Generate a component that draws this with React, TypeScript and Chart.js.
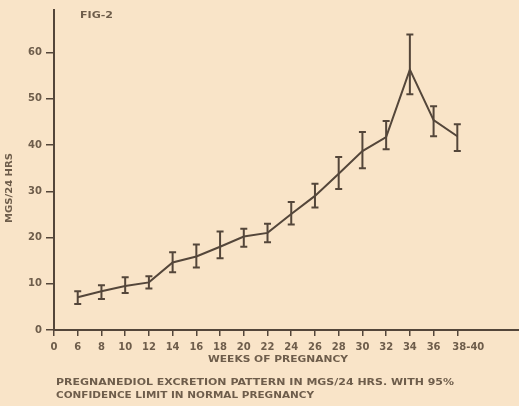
import React, { useEffect, useRef } from "react";
import { Chart, registerables } from "chart.js";
Chart.register(...registerables);

const weekLabels = ["0", "6", "8", "10", "12", "14", "16", "18", "20", "22", "24", "26", "28", "30", "32", "34", "36", "38-40"];
const meanValues = [7.1, 8.4, 9.5, 10.3, 14.6, 15.9, 18.0, 20.2, 21.0, 25.1, 29.0, 33.8, 38.7, 41.7, 56.3, 45.4, 41.9];
const upperValues = [8.4, 9.7, 11.4, 11.6, 16.8, 18.5, 21.3, 21.9, 23.0, 27.7, 31.6, 37.4, 42.8, 45.2, 63.9, 48.4, 44.5];
const lowerValues = [5.6, 6.7, 8.0, 9.0, 12.5, 13.5, 15.5, 18.0, 19.0, 22.8, 26.5, 30.5, 35.0, 39.1, 51.0, 41.9, 38.7];
const yTicks = [0, 10, 20, 30, 40, 50, 60];
const captionLines = ["PREGNANEDIOL EXCRETION PATTERN IN MGS/24 HRS. WITH 95%", "CONFIDENCE LIMIT IN NORMAL PREGNANCY"];

const INK = "#54463a";
const TEXT = "#6e5d4b";
const BG = "#f9e4c8";
const FONT = "'DejaVu Sans', sans-serif";

function stretchText(ctx: CanvasRenderingContext2D, text: string, x: number, y: number, width: number, align: "left" | "center") {
  const w = ctx.measureText(text).width;
  const s = width / w;
  ctx.save();
  ctx.textAlign = "left";
  const left = align === "center" ? x - width / 2 : x;
  ctx.translate(left, y);
  ctx.scale(s, 1);
  ctx.fillText(text, 0, 0);
  ctx.restore();
}

export default function App() {
  const ref = useRef<HTMLCanvasElement | null>(null);
  useEffect(() => {
    document.body.style.margin = "0";
    document.body.style.background = BG;
    const canvas = ref.current!;
    const errorBars = {
      id: "errorBars",
      afterDatasetsDraw(chart: any) {
        const ctx = chart.ctx;
        const xs = chart.scales.x;
        const ys = chart.scales.y;
        ctx.save();
        ctx.strokeStyle = INK;
        ctx.lineWidth = 2;
        for (let i = 0; i < meanValues.length; i++) {
          const x = xs.getPixelForValue(i + 1);
          const yh = ys.getPixelForValue(upperValues[i]);
          const yl = ys.getPixelForValue(lowerValues[i]);
          ctx.beginPath();
          ctx.moveTo(x, yh);
          ctx.lineTo(x, yl);
          ctx.moveTo(x - 3.5, yh);
          ctx.lineTo(x + 3.5, yh);
          ctx.moveTo(x - 3.5, yl);
          ctx.lineTo(x + 3.5, yl);
          ctx.stroke();
        }
        ctx.restore();
      },
    };
    const texts = {
      id: "texts",
      beforeDraw(chart: any) {
        const ctx = chart.ctx;
        ctx.save();
        ctx.fillStyle = BG;
        ctx.fillRect(0, 0, chart.width, chart.height);
        ctx.restore();
      },
      afterDraw(chart: any) {
        const ctx = chart.ctx;
        const xs = chart.scales.x;
        ctx.save();
        ctx.fillStyle = TEXT;
        ctx.textBaseline = "middle";
        // x tick labels
        ctx.font = `bold 10px ${FONT}`;
        weekLabels.forEach((lab, i) => {
          const px = xs.getPixelForValue(i);
          if (lab.length > 2) {
            ctx.textAlign = "left";
            ctx.fillText(lab, px - 5, 347);
          } else {
            ctx.textAlign = "center";
            ctx.fillText(lab, px, 347);
          }
        });
        ctx.font = `bold 8px ${FONT}`;
        stretchText(ctx, "FIG-2", 80, 16, 33, "left");
        ctx.font = `bold 9px ${FONT}`;
        stretchText(ctx, "WEEKS OF PREGNANCY", 278, 360, 140, "center");
        stretchText(ctx, captionLines[0], 56, 383, 398, "left");
        stretchText(ctx, captionLines[1], 56, 396, 258, "left");
        ctx.translate(10, 188);
        ctx.rotate(-Math.PI / 2);
        ctx.font = `bold 8px ${FONT}`;
        stretchText(ctx, "MGS/24 HRS", 0, 0, 70, "center");
        ctx.restore();
      },
    };
    const chart = new Chart(canvas, {
      type: "line",
      data: {
        datasets: [
          {
            data: meanValues.map((v, i) => ({ x: i + 1, y: v })),
            borderColor: INK,
            borderWidth: 2,
            pointRadius: 0,
            tension: 0,
            fill: false,
          },
        ],
      },
      plugins: [errorBars, texts],
      options: {
        animation: false,
        responsive: false,
        maintainAspectRatio: false,
        layout: { padding: { top: 8, right: 0, left: 0, bottom: 0 } },
        plugins: { legend: { display: false }, tooltip: { enabled: false }, title: { display: false } },
        scales: {
          x: {
            type: "linear",
            min: 0,
            max: 19.6,
            afterBuildTicks(scale: any) {
              scale.ticks = weekLabels.map((_, i) => ({ value: i }));
            },
            afterFit(scale: any) {
              scale.height = 76;
            },
            ticks: {
              autoSkip: false,
              maxRotation: 0,
              padding: 5,
              color: "rgba(0,0,0,0)",
              font: { family: FONT, size: 9, weight: "bold" },
              callback: (v: any) => weekLabels[Math.round(Number(v))] ?? "",
            },
            grid: { drawOnChartArea: false, tickLength: 6, color: INK, lineWidth: 1.5 },
            border: { color: INK, width: 2 },
          },
          y: {
            min: 0,
            max: 69.2,
            afterBuildTicks(scale: any) {
              scale.ticks = yTicks.map((v) => ({ value: v }));
            },
            afterFit(scale: any) {
              scale.width = 54;
            },
            ticks: {
              padding: 4,
              color: TEXT,
              font: { family: FONT, size: 10, weight: "bold" },
            },
            grid: { drawOnChartArea: false, tickLength: 8, color: INK, lineWidth: 1.5 },
            border: { color: INK, width: 2 },
          },
        },
      },
    });
    return () => chart.destroy();
  }, []);
  return (
    <div style={{ width: 519, height: 406, background: BG }}>
      <canvas ref={ref} width={519} height={406} style={{ display: "block" }} />
    </div>
  );
}
